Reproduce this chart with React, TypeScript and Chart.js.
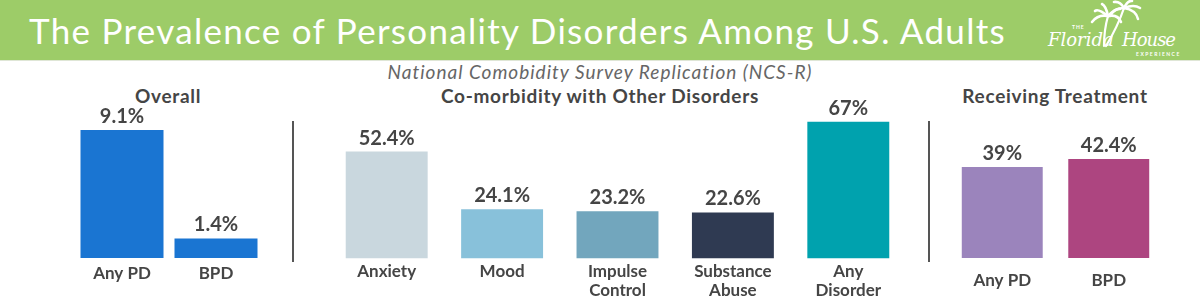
import React, { useEffect, useRef } from 'react';
import { Chart, registerables } from 'chart.js';
Chart.register(...registerables);

const overallLabels = ['Any PD', 'BPD'];
const overallValues = [9.1, 1.4];
const overallColors = ['#1A75D2', '#1A75D2'];

const comorbidLabels = [['Anxiety'], ['Mood'], ['Impulse', 'Control'], ['Substance', 'Abuse'], ['Any', 'Disorder']];
const comorbidValues = [52.4, 24.1, 23.2, 22.6, 67];
const comorbidColors = ['#C9D7DE', '#88C1DA', '#72A6BD', '#2F3A52', '#00A2AE'];

const treatmentLabels = ['Any PD', 'BPD'];
const treatmentValues = [39, 42.4];
const treatmentColors = ['#9B84BC', '#AD4580'];

const FONT = 'Lato, "Open Sans", sans-serif';

const valueLabelPlugin = {
  id: 'valueLabels',
  afterDatasetsDraw(chart: any) {
    const ctx = chart.ctx;
    const meta = chart.getDatasetMeta(0);
    const ds = chart.data.datasets[0];
    ctx.save();
    ctx.font = `bold 20px ${FONT}`;
    ctx.fillStyle = '#454545';
    ctx.textAlign = 'center';
    ctx.textBaseline = 'alphabetic';
    meta.data.forEach((el: any, i: number) => {
      ctx.fillText(String(ds.data[i]) + '%', el.x, el.y - 7);
    });
    ctx.restore();
  },
};

type PanelProps = {
  left: number; top: number; width: number; height: number;
  labels: any[]; values: number[]; colors: string[];
  yMax: number; barPct: number; tickPad: number;
};

function Panel(p: PanelProps) {
  const ref = useRef<HTMLCanvasElement | null>(null);
  useEffect(() => {
    if (!ref.current) return;
    const chart = new Chart(ref.current, {
      type: 'bar',
      data: {
        labels: p.labels,
        datasets: [{ data: p.values, backgroundColor: p.colors, barPercentage: p.barPct, categoryPercentage: 1 }],
      },
      options: {
        responsive: false,
        maintainAspectRatio: false,
        animation: false,
        layout: { padding: 0 },
        plugins: { legend: { display: false }, tooltip: { enabled: false }, title: { display: false } },
        scales: {
          x: {
            grid: { display: false, drawTicks: false },
            border: { display: false },
            ticks: {
              padding: p.tickPad, color: '#454545', autoSkip: false, maxRotation: 0,
              font: { family: FONT, size: 17, weight: 'bold', lineHeight: 1.1 },
            },
          },
          y: { display: false, min: 0, max: p.yMax },
        },
      },
      plugins: [valueLabelPlugin],
    } as any);
    return () => chart.destroy();
  }, []);
  return (
    <canvas ref={ref} width={p.width} height={p.height}
      style={{ position: 'absolute', left: p.left, top: p.top, width: p.width, height: p.height }} />
  );
}

const panelTitle = (text: string, cx: number) => (
  <div style={{ position: 'absolute', left: cx - 200, width: 400, top: 84, textAlign: 'center',
    font: `bold 19px ${FONT}`, letterSpacing: '0.7px', color: '#454545', lineHeight: '24px' }}>{text}</div>
);

const divider = (x: number) => (
  <div style={{ position: 'absolute', left: x - 1, top: 121, width: 2, height: 141, background: '#555' }} />
);

function Logo() {
  const fr = { stroke: '#fff', strokeWidth: 2.6, fill: 'none', strokeLinecap: 'round' as const };
  return (
    <div style={{ position: 'absolute', left: 1040, top: 0, width: 160, height: 60, color: '#fff' }}>
      <svg width="160" height="60" style={{ position: 'absolute', left: 0, top: 0 }}>
        <path d="M64 46 Q64 30 68 16" {...fr} strokeWidth={2.2} />
        <path d="M66 46 Q78 26 84 8" {...fr} strokeWidth={2.2} />
        <path d="M68 16 Q58 14 52 22" {...fr} />
        <path d="M68 16 Q58 8 55 11" {...fr} />
        <path d="M68 16 Q66 6 62 4" {...fr} />
        <path d="M68 16 Q76 8 80 9" {...fr} />
        <path d="M68 16 Q78 14 81 22" {...fr} />
        <path d="M84 8 Q74 8 70 16" {...fr} />
        <path d="M84 8 Q80 1 74 2" {...fr} />
        <path d="M84 8 Q88 0 92 1" {...fr} />
        <path d="M84 8 Q94 4 100 8" {...fr} />
        <path d="M84 8 Q96 10 98 19" {...fr} />
      </svg>
      <div style={{ position: 'absolute', left: 32, top: 24, font: `bold 5px ${FONT}`, letterSpacing: 1 }}>THE</div>
      <div style={{ position: 'absolute', left: 8, top: 29, font: `italic 18px "DejaVu Serif", serif` }}>Florida</div>
      <div style={{ position: 'absolute', left: 82, top: 29, font: `italic 18px "DejaVu Serif", serif`, letterSpacing: '-1px' }}>House</div>
      <div style={{ position: 'absolute', left: 96, top: 51, font: `bold 5px ${FONT}`, letterSpacing: 1.5 }}>EXPERIENCE</div>
    </div>
  );
}

export default function App() {
  return (
    <div style={{ position: 'fixed', left: 0, top: 0, width: 1200, height: 304, background: '#fff', overflow: 'hidden' }}>
      <div style={{ position: 'absolute', left: 0, top: 0, width: 1200, height: 60, background: '#9DCC68' }} />
      <div style={{ position: 'absolute', left: 0, top: 60, width: 1200, height: 1, background: '#dfe6d6' }} />
      <div style={{ position: 'absolute', left: 29, top: 8, whiteSpace: 'nowrap',
        font: `35px ${FONT}`, letterSpacing: '1.3px', color: '#fff', lineHeight: '44px' }}>
        The Prevalence of Personality Disorders Among U.S. Adults
      </div>
      <Logo />
      <div style={{ position: 'absolute', left: 300, width: 600, top: 60, textAlign: 'center',
        font: `italic 19px ${FONT}`, letterSpacing: '1px', color: '#666', lineHeight: '24px' }}>
        National Comobidity Survey Replication (NCS-R)
      </div>
      {panelTitle('Overall', 168)}
      {panelTitle('Co-morbidity with Other Disorders', 600)}
      {panelTitle('Receiving Treatment', 1055)}
      {divider(293)}
      {divider(929)}
      <Panel left={75} top={100} width={188} height={188} labels={overallLabels} values={overallValues}
        colors={overallColors} yMax={11.23} barPct={0.883} tickPad={5.6} />
      <Panel left={329} top={100} width={577} height={204} labels={comorbidLabels} values={comorbidValues}
        colors={comorbidColors} yMax={77.6} barPct={0.71} tickPad={4} />
      <Panel left={949} top={100} width={213} height={202} labels={treatmentLabels} values={treatmentValues}
        colors={treatmentColors} yMax={67.7} barPct={0.76} tickPad={12.6} />
    </div>
  );
}
